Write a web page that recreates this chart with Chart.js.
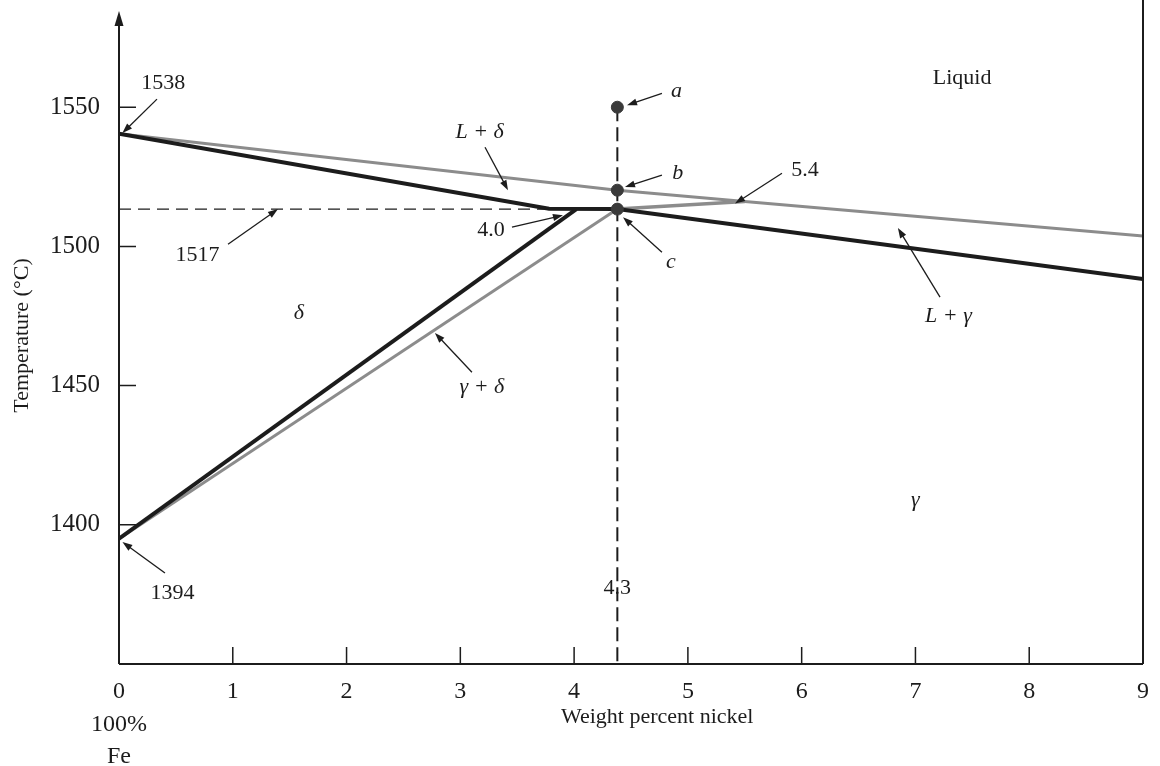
<!DOCTYPE html>
<html>
<head>
<meta charset="utf-8">
<script src="https://cdn.jsdelivr.net/npm/chart.js@4.4.1/dist/chart.umd.min.js"></script>
<style>
  html, body { margin: 0; padding: 0; background: #fff; }
  #wrap { width: 1160px; height: 766px; position: relative; }
</style>
</head>
<body>
<div id="wrap"><canvas id="phase"></canvas></div>
<script>
// Fe-Ni diagram, iron-rich corner (0-9 wt% Ni)
const xTickValues = [0, 1, 2, 3, 4, 5, 6, 7, 8, 9];
const xTickLabels = [['0', '100%', 'Fe'], '1', '2', '3', '4', '5', '6', '7', '8', '9'];
const yTickValues = [1400, 1450, 1500, 1550];
const yTickLabels = ['1400', '1450', '1500', '1550'];

// liquidus (grey)
const liquidusNi = [0, 4.38, 5.5, 9];
const liquidusT = [1540.5, 1520.2, 1516.1, 1503.7];
// liquid end of the peritectic (grey, from c up to ~5.4)
const periLiqNi = [4.38, 5.5];
const periLiqT = [1513.4, 1516.1];
// gamma boundary (grey)
const gammaNi = [0, 4.38];
const gammaT = [1395, 1513.4];
// solidus (black)
const solidusNi = [0, 3.78, 4.38, 9];
const solidusT = [1540.5, 1513.5, 1513.4, 1488.3];
// delta boundary (black)
const deltaNi = [0, 4.02];
const deltaT = [1395, 1513.4];
// dashed guides
const isoNi = [0, 4.38];
const isoT = [1513.4, 1513.4];
const alloyNi = [4.38, 4.38];
const alloyT = [1550, 1350];
// states a, b, c
const stateNi = [4.38, 4.38, 4.38];
const stateT = [1550, 1520.2, 1513.4];

const pts = (xs, ys) => xs.map((x, i) => ({ x: x, y: ys[i] }));

// labels: text, position, optional arrow [fromX, fromT, toX, toT]
const notes = [
    { text: '1538', x: 0.39, y: 1558.6, arrow: [0.334, 1552.9, 0.03, 1540.7] },
    { text: '1517', x: 0.69, y: 1496.9, arrow: [0.958, 1500.8, 1.397, 1513.4] },
    { text: '1394', x: 0.47, y: 1375.5, arrow: [0.404, 1382.7, 0.03, 1393.8] },
    { text: 'a', x: 4.90, y: 1555.7, italic: true, arrow: [4.772, 1555.0, 4.465, 1550.7] },
    { text: 'b', x: 4.91, y: 1526.3, italic: true, arrow: [4.772, 1525.6, 4.447, 1521.3] },
    { text: 'c', x: 4.85, y: 1494.3, italic: true, arrow: [4.772, 1497.9, 4.43, 1510.5] },
    { text: 'L + δ', x: 3.17, y: 1541.0, italic: true, arrow: [3.217, 1535.6, 3.419, 1520.2] },
    { text: '4.0', x: 3.27, y: 1505.8, arrow: [3.454, 1506.9, 3.902, 1511.2] },
    { text: '5.4', x: 6.03, y: 1527.4, arrow: [5.827, 1526.3, 5.414, 1515.4] },
    { text: 'L + γ', x: 7.29, y: 1475.0, italic: true, arrow: [7.216, 1481.8, 6.846, 1506.6] },
    { text: 'γ + δ', x: 3.19, y: 1449.5, italic: true, arrow: [3.102, 1454.8, 2.777, 1468.9] },
    { text: 'δ', x: 1.58, y: 1476.0, italic: true },
    { text: 'γ', x: 7.00, y: 1408.9, italic: true },
    { text: 'Liquid', x: 7.41, y: 1560.4 },
    { text: '4.3', x: 4.38, y: 1377.3 }
];
const xTitle = 'Weight percent nickel';
const xTitleAt = 4.73;

const ink = '#1c1c1c';
const greyLine = '#8c8c8c';
const serif = '"Liberation Serif", "DejaVu Serif", serif';

function drawArrow(ctx, x1, y1, x2, y2) {
    const ang = Math.atan2(y2 - y1, x2 - x1);
    const len = 10, half = 3.5;
    ctx.beginPath();
    ctx.moveTo(x1, y1);
    ctx.lineTo(x2 - Math.cos(ang) * len * 0.8, y2 - Math.sin(ang) * len * 0.8);
    ctx.stroke();
    ctx.beginPath();
    ctx.moveTo(x2, y2);
    ctx.lineTo(x2 - Math.cos(ang) * len - Math.sin(ang) * half, y2 - Math.sin(ang) * len + Math.cos(ang) * half);
    ctx.lineTo(x2 - Math.cos(ang) * len + Math.sin(ang) * half, y2 - Math.sin(ang) * len - Math.cos(ang) * half);
    ctx.closePath();
    ctx.fill();
}

const diagramPlugin = {
    id: 'diagram',
    afterDatasetsDraw(chart) {
        const { ctx, chartArea: ca, scales: { x, y } } = chart;
        ctx.save();
        ctx.strokeStyle = ink;
        ctx.fillStyle = ink;

        // axes: left with arrow, bottom, right edge up to the top of the figure
        ctx.lineWidth = 2;
        ctx.beginPath();
        ctx.moveTo(ca.left, ca.bottom);
        ctx.lineTo(ca.left, 20);
        ctx.moveTo(ca.left, ca.bottom);
        ctx.lineTo(ca.right, ca.bottom);
        ctx.moveTo(ca.right, 0);
        ctx.lineTo(ca.right, ca.bottom);
        ctx.stroke();
        ctx.beginPath();
        ctx.moveTo(ca.left, 11);
        ctx.lineTo(ca.left - 4.5, 26);
        ctx.lineTo(ca.left + 4.5, 26);
        ctx.closePath();
        ctx.fill();

        // inward ticks
        ctx.lineWidth = 1.5;
        ctx.beginPath();
        xTickValues.forEach(v => {
            const px = x.getPixelForValue(v);
            ctx.moveTo(px, ca.bottom);
            ctx.lineTo(px, ca.bottom - 17);
        });
        yTickValues.forEach(v => {
            const py = y.getPixelForValue(v);
            ctx.moveTo(ca.left, py);
            ctx.lineTo(ca.left + 17, py);
        });
        ctx.stroke();

        // labels and pointer arrows
        ctx.lineWidth = 1.3;
        ctx.textAlign = 'center';
        ctx.textBaseline = 'middle';
        notes.forEach(n => {
            ctx.font = (n.italic ? 'italic ' : '') + '22px ' + serif;
            ctx.fillText(n.text, x.getPixelForValue(n.x), y.getPixelForValue(n.y));
            if (n.arrow) {
                const a = n.arrow;
                drawArrow(ctx, x.getPixelForValue(a[0]), y.getPixelForValue(a[1]),
                    x.getPixelForValue(a[2]), y.getPixelForValue(a[3]));
            }
        });

        ctx.font = '22px ' + serif;
        ctx.fillText(xTitle, x.getPixelForValue(xTitleAt), ca.bottom + 53);
        ctx.restore();
    }
};

const noEdgePadding = s => {
    s.paddingTop = 0; s.paddingBottom = 0; s.paddingLeft = 0; s.paddingRight = 0;
};

new Chart(document.getElementById('phase'), {
    type: 'line',
    data: {
        datasets: [
            { data: pts(stateNi, stateT), showLine: false, pointRadius: 6, pointBackgroundColor: '#3a3a3a', pointBorderColor: '#3a3a3a', order: 0 },
            { data: pts(solidusNi, solidusT), borderColor: ink, borderWidth: 4, pointRadius: 0, order: 1 },
            { data: pts(deltaNi, deltaT), borderColor: ink, borderWidth: 4, pointRadius: 0, order: 1 },
            { data: pts(liquidusNi, liquidusT), borderColor: greyLine, borderWidth: 3, pointRadius: 0, order: 2 },
            { data: pts(periLiqNi, periLiqT), borderColor: greyLine, borderWidth: 3.5, pointRadius: 0, order: 2 },
            { data: pts(gammaNi, gammaT), borderColor: greyLine, borderWidth: 3, pointRadius: 0, order: 2 },
            { data: pts(isoNi, isoT), borderColor: ink, borderWidth: 1.3, borderDash: [12, 7], pointRadius: 0, order: 3 },
            { data: pts(alloyNi, alloyT), borderColor: ink, borderWidth: 2, borderDash: [14, 6], pointRadius: 0, order: 3 }
        ]
    },
    options: {
        responsive: true,
        maintainAspectRatio: false,
        animation: false,
        events: [],
        layout: { padding: { top: 1, right: 17, bottom: 0, left: 0 } },
        plugins: { legend: { display: false }, tooltip: { enabled: false } },
        elements: { line: { tension: 0 } },
        scales: {
            x: {
                type: 'linear',
                min: 0,
                max: 9,
                afterBuildTicks: s => { s.ticks = xTickValues.map(v => ({ value: v })); },
                afterFit: s => { s.height = 102; noEdgePadding(s); },
                grid: { display: false },
                border: { display: false },
                ticks: {
                    padding: 4,
                    color: ink,
                    font: { family: serif, size: 24, lineHeight: 1.35 },
                    callback: v => xTickLabels[xTickValues.indexOf(v)]
                }
            },
            y: {
                type: 'linear',
                min: 1350,
                max: 1586,
                afterBuildTicks: s => { s.ticks = yTickValues.map(v => ({ value: v })); },
                afterFit: s => { s.width = 119; noEdgePadding(s); },
                grid: { display: false },
                border: { display: false },
                ticks: {
                    padding: 11,
                    color: ink,
                    font: { family: serif, size: 25 },
                    callback: v => yTickLabels[yTickValues.indexOf(v)]
                },
                title: {
                    display: true,
                    text: 'Temperature (°C)',
                    color: ink,
                    font: { family: serif, size: 22 },
                    padding: { top: 9, bottom: 0 }
                }
            }
        }
    },
    plugins: [diagramPlugin]
});
</script>
</body>
</html>
